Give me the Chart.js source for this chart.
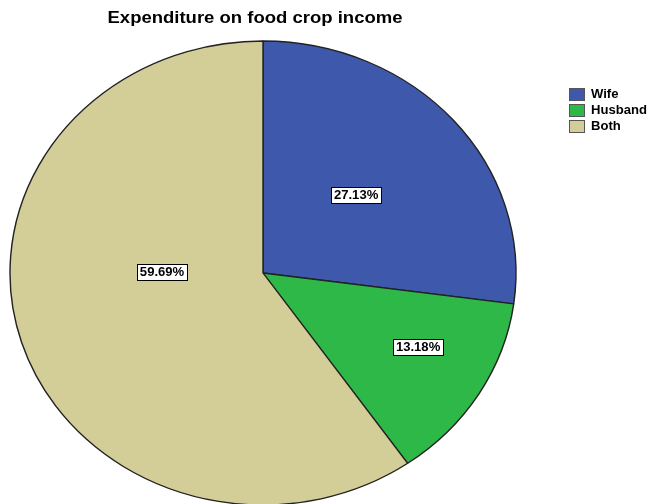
<!DOCTYPE html>
<html>
<head>
<meta charset="utf-8">
<script src="https://cdn.jsdelivr.net/npm/chart.js@4/dist/chart.umd.min.js"></script>
<style>
  html, body { margin: 0; padding: 0; background: #ffffff; }
  #wrap { width: 655px; height: 504px; position: relative; }
</style>
</head>
<body>
<div id="wrap"><canvas id="c" width="655" height="504"></canvas></div>
<script>
// Data
const categories = ['Wife', 'Husband', 'Both'];
const percentages = [27.13, 13.18, 59.69];
const titleText = 'Expenditure on food crop income';

// Styles
const sliceColors = ['#3E58AC', '#2EB848', '#D3CE97'];
const edgeColor = '#222222';
// Oval pie geometry (centre and horizontal / vertical radii in canvas px)
const oval = { cx: 263, cy: 273, rx: 253, ry: 232 };
// Value-box anchors, as fractions of the horizontal / vertical radius
const labelAnchors = [[0.368, -0.337], [0.613, 0.318], [-0.399, -0.004]];
const textStretch = 1.09;
const FONT = 'Liberation Sans, Arial, sans-serif';

function stretchedText(ctx, text, x, y, align, targetWidth) {
  ctx.save();
  ctx.translate(x, y);
  let sx = textStretch;
  if (targetWidth) sx = targetWidth / ctx.measureText(text).width;
  ctx.scale(sx, 1);
  ctx.textAlign = align;
  ctx.fillText(text, 0, 0);
  ctx.restore();
}

const ovalPie = {
  id: 'ovalPie',
  beforeDatasetsDraw(chart) {
    const arc = chart.getDatasetMeta(0).data[0];
    const R = arc.outerRadius;
    const ctx = chart.ctx;
    ctx.save();
    ctx.translate(oval.cx, oval.cy);
    ctx.scale(oval.rx / R, oval.ry / R);
    ctx.translate(-arc.x, -arc.y);
  },
  afterDatasetsDraw(chart) {
    const ctx = chart.ctx;
    ctx.restore();

    // value boxes
    ctx.save();
    ctx.font = 'bold 12px ' + FONT;
    ctx.textBaseline = 'middle';
    percentages.forEach((v, i) => {
      const txt = v.toFixed(2) + '%';
      const x = oval.cx + labelAnchors[i][0] * oval.rx;
      const y = oval.cy + labelAnchors[i][1] * oval.ry;
      const w = Math.round(ctx.measureText(txt).width * textStretch + 6);
      const h = 16;
      const bx = Math.round(x - w / 2) + 0.5;
      const by = Math.round(y - h / 2) + 0.5;
      ctx.fillStyle = '#ffffff';
      ctx.fillRect(bx, by, w, h);
      ctx.strokeStyle = '#000000';
      ctx.lineWidth = 1;
      ctx.strokeRect(bx, by, w, h);
      ctx.fillStyle = '#000000';
      stretchedText(ctx, txt, x, y + 1, 'center');
    });

    // title
    ctx.font = 'bold 16px ' + FONT;
    ctx.textBaseline = 'alphabetic';
    ctx.fillStyle = '#000000';
    stretchedText(ctx, titleText, 255, 23, 'center', 295);

    // legend
    ctx.font = 'bold 12px ' + FONT;
    ctx.textBaseline = 'middle';
    categories.forEach((name, i) => {
      const y = 88 + i * 16;
      ctx.fillStyle = sliceColors[i];
      ctx.fillRect(569.5, y + 0.5, 15, 12);
      ctx.strokeStyle = '#555555';
      ctx.lineWidth = 1;
      ctx.strokeRect(569.5, y + 0.5, 15, 12);
      ctx.fillStyle = '#000000';
      stretchedText(ctx, name, 591, y + 7, 'left');
    });
    ctx.restore();
  }
};

new Chart(document.getElementById('c'), {
  type: 'pie',
  data: {
    labels: categories,
    datasets: [{
      data: percentages,
      backgroundColor: sliceColors,
      borderColor: edgeColor,
      borderWidth: 1.3,
      borderAlign: 'center'
    }]
  },
  options: {
    responsive: false,
    animation: false,
    events: [],
    layout: { padding: { left: 30, right: 160, top: 40, bottom: 0 } },
    plugins: {
      legend: { display: false },
      title: { display: false },
      tooltip: { enabled: false }
    }
  },
  plugins: [ovalPie]
});
</script>
</body>
</html>
